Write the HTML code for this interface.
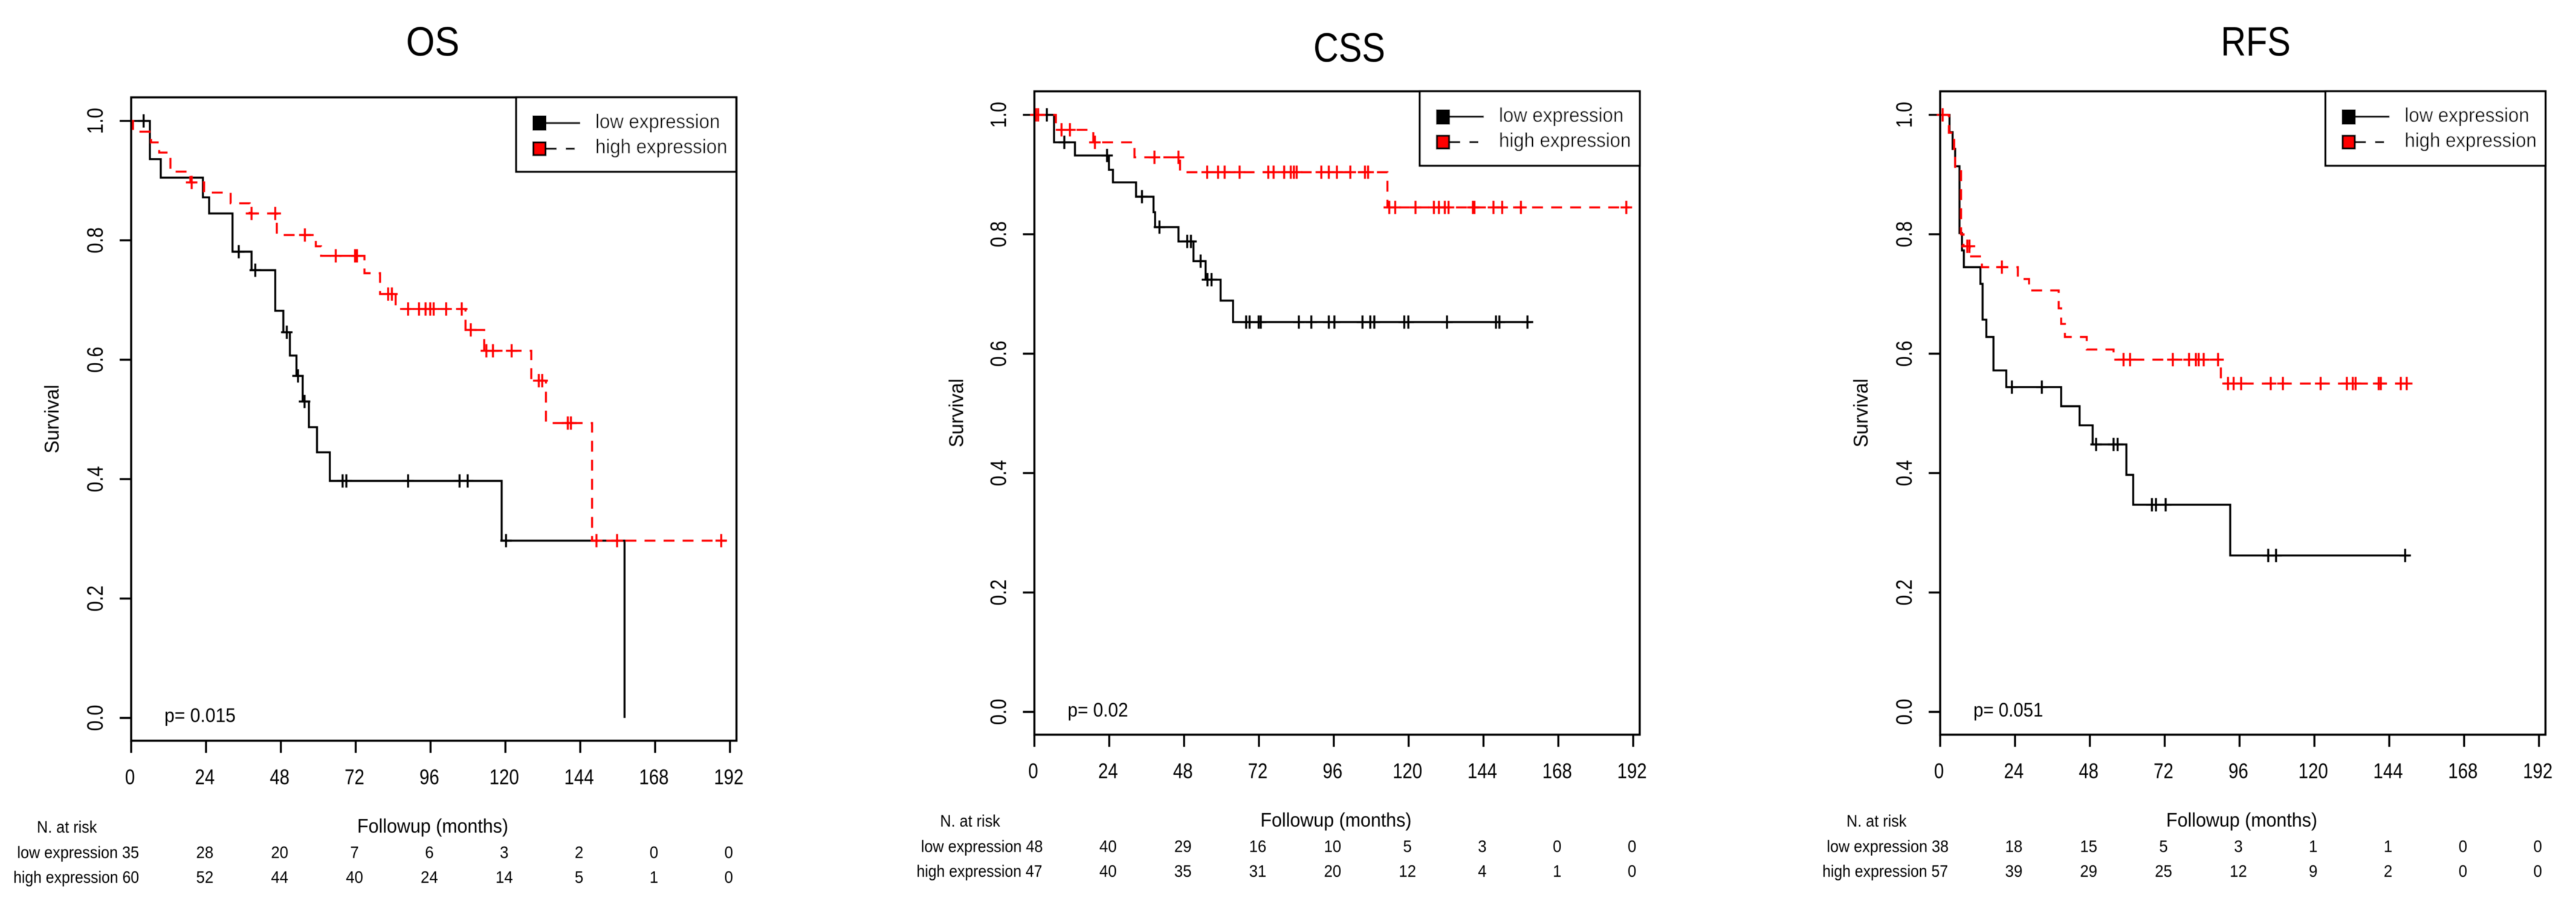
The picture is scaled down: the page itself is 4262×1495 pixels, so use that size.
<!DOCTYPE html>
<html lang="en">
<head>
<meta charset="utf-8">
<title>Survival curves: OS, CSS, RFS</title>
<style>
html,body{margin:0;padding:0;background:#fff;width:4262px;height:1495px;overflow:hidden}
svg{display:block;font-family:"Liberation Sans",sans-serif;fill:#000}
text{fill:#000}
</style>
</head>
<body>
<svg id="figure" xmlns="http://www.w3.org/2000/svg" width="4262" height="1495" viewBox="0 0 4262 1495">
<defs><filter id="soft" x="0" y="0" width="100%" height="100%"><feGaussianBlur stdDeviation="0.4"/></filter></defs>
<rect width="4262" height="1495" fill="#fff"/>
<g filter="url(#soft)">

<g id="panel-os" transform="translate(217,161)">
  <text transform="translate(499,-69) scale(.9,1)" font-size="68" text-anchor="middle">OS</text>
  <text transform="translate(-120,532) rotate(-90) scale(.97,1)" font-size="33" text-anchor="middle">Survival</text>
  <text transform="translate(499,1216) scale(.95,1)" font-size="32" text-anchor="middle">Followup (months)</text>
  <text transform="translate(55,1033) scale(.94,1)" font-size="32">p= 0.015</text>
  <text transform="translate(-156,1216) scale(.9,1)" font-size="28">N. at risk</text>
  <text transform="translate(13,1258) scale(.9,1)" font-size="28" text-anchor="end">low expression 35</text>
  <text transform="translate(13,1299) scale(.885,1)" font-size="28" text-anchor="end">high expression 60</text>
  <g class="legend" transform="translate(637,0)">
    <rect x="0" y="0" width="364" height="123" fill="#fff" stroke="#000" stroke-width="3.3"/>
    <rect x="27" y="30" width="23" height="25" fill="#000"/>
    <line x1="50" x2="106" y1="42.5" y2="42.5" stroke="#000" stroke-width="3.3"/>
    <text transform="translate(131,51) scale(.945,1)" font-size="33">low expression</text>
    <rect x="28.5" y="74.5" width="20" height="21" fill="#f00" stroke="#000" stroke-width="3.3"/>
    <path d="M50 85H67M82 85H97" stroke="#000" stroke-width="3.3" fill="none"/>
    <text transform="translate(131,92.5) scale(.945,1)" font-size="33">high expression</text>
  </g>
</g>

<g id="panel-css" transform="translate(1711.4,151)">
  <text transform="translate(521,-49) scale(.85,1)" font-size="68" text-anchor="middle">CSS</text>
  <text transform="translate(-118,532) rotate(-90) scale(.97,1)" font-size="33" text-anchor="middle">Survival</text>
  <text transform="translate(499,1216) scale(.95,1)" font-size="32" text-anchor="middle">Followup (months)</text>
  <text transform="translate(55,1034) scale(.93,1)" font-size="32">p= 0.02</text>
  <text transform="translate(-156,1216) scale(.9,1)" font-size="28">N. at risk</text>
  <text transform="translate(14,1258) scale(.9,1)" font-size="28" text-anchor="end">low expression 48</text>
  <text transform="translate(13,1299) scale(.885,1)" font-size="28" text-anchor="end">high expression 47</text>
  <g class="legend" transform="translate(637.6,0)">
    <rect x="0" y="0" width="364" height="123" fill="#fff" stroke="#000" stroke-width="3.3"/>
    <rect x="27" y="30" width="23" height="25" fill="#000"/>
    <line x1="50" x2="106" y1="42" y2="42" stroke="#000" stroke-width="3.3"/>
    <text transform="translate(131,50.5) scale(.945,1)" font-size="33">low expression</text>
    <rect x="28.5" y="73.5" width="20" height="21" fill="#f00" stroke="#000" stroke-width="3.3"/>
    <path d="M50 84H67M82 84H97" stroke="#000" stroke-width="3.3" fill="none"/>
    <text transform="translate(131,92) scale(.945,1)" font-size="33">high expression</text>
  </g>
</g>

<g id="panel-rfs" transform="translate(3210,151)">
  <text transform="translate(522,-59) scale(.85,1)" font-size="68" text-anchor="middle">RFS</text>
  <text transform="translate(-120,532) rotate(-90) scale(.97,1)" font-size="33" text-anchor="middle">Survival</text>
  <text transform="translate(499,1216) scale(.95,1)" font-size="32" text-anchor="middle">Followup (months)</text>
  <text transform="translate(55,1034) scale(.92,1)" font-size="32">p= 0.051</text>
  <text transform="translate(-155,1216) scale(.9,1)" font-size="28">N. at risk</text>
  <text transform="translate(14,1258) scale(.9,1)" font-size="28" text-anchor="end">low expression 38</text>
  <text transform="translate(13,1299) scale(.885,1)" font-size="28" text-anchor="end">high expression 57</text>
  <g class="legend" transform="translate(637.5,0)">
    <rect x="0" y="0" width="364" height="123" fill="#fff" stroke="#000" stroke-width="3.3"/>
    <rect x="27" y="30" width="23" height="25" fill="#000"/>
    <line x1="50" x2="106" y1="42" y2="42" stroke="#000" stroke-width="3.3"/>
    <text transform="translate(131,50.5) scale(.945,1)" font-size="33">low expression</text>
    <rect x="28.5" y="73.5" width="20" height="21" fill="#f00" stroke="#000" stroke-width="3.3"/>
    <path d="M50 84H67M82 84H97" stroke="#000" stroke-width="3.3" fill="none"/>
    <text transform="translate(131,92) scale(.945,1)" font-size="33">high expression</text>
  </g>
</g>

</g>
</svg>

<script>
// Axis tick labels
const xTicks = [0, 24, 48, 72, 96, 120, 144, 168, 192];
const yTicks = ["0.0", "0.2", "0.4", "0.6", "0.8", "1.0"];

// OS series
const osLowTime = [0, 6, 9.5, 23, 25, 32.5, 38.6, 46.2, 48.8, 50.9, 53, 55, 57, 59.6, 63.7, 118.8, 158.2];
const osLowSurv = [1, 0.936, 0.905, 0.872, 0.845, 0.781, 0.75, 0.682, 0.646, 0.607, 0.573, 0.53, 0.487, 0.445, 0.397, 0.297, 0];
const osLowCensor = [4, 34.5, 39.8, 49.9, 53.5, 55.6, 67.8, 69, 88.8, 105.3, 107.9, 120.2];
const osHighTime = [0, 0.6, 6.4, 9, 12.6, 19, 23.4, 31.9, 38, 46.7, 59.2, 60.9, 74.8, 79.8, 84.8, 107.2, 113.2, 128.3, 133, 147.8, 190.8];
const osHighSurv = [1, 0.982, 0.964, 0.947, 0.915, 0.897, 0.88, 0.862, 0.845, 0.809, 0.79, 0.774, 0.745, 0.71, 0.685, 0.65, 0.615, 0.565, 0.494, 0.297, 0.297];
const osHighCensor = [19.4, 38.6, 46.2, 55.7, 65.6, 71.8, 72.4, 82.4, 83.6, 88.8, 92.3, 94.4, 95.9, 97, 101, 106, 108.9, 113.9, 116, 122, 130.7, 131.8, 140, 141, 149.2, 155.8, 189.2];
const osRiskLow = [28, 20, 7, 6, 3, 2, 0, 0];
const osRiskHigh = [52, 44, 40, 24, 14, 5, 1, 0];

// CSS series
const cssLowTime = [0, 6.3, 13, 23.9, 25.2, 32.6, 38.2, 38.7, 46.2, 51, 54.9, 59.7, 63.7, 159.4];
const cssLowSurv = [1, 0.954, 0.932, 0.908, 0.887, 0.863, 0.837, 0.812, 0.788, 0.755, 0.724, 0.689, 0.653, 0.653];
const cssLowCensor = [4, 9.6, 23.3, 34.5, 40.1, 49, 50.2, 53.3, 55.5, 56.8, 67.9, 69, 71.9, 72.6, 84.8, 88.8, 94.4, 96.2, 105.2, 107.7, 109, 118.6, 119.9, 132.3, 148, 149.1, 158.1];
const cssHighTime = [0, 6.9, 18.9, 32.1, 46.7, 113.2, 190.7];
const cssHighSurv = [1, 0.975, 0.954, 0.929, 0.904, 0.845, 0.845];
const cssHighCensor = [0.5, 1.2, 8.7, 11.4, 19.4, 38.5, 46.2, 55.4, 58.9, 61, 65.8, 75, 76.7, 80.1, 82.2, 83.2, 84.1, 92, 94.4, 97, 101.3, 106, 107, 113.8, 115.7, 122.2, 128.1, 129.7, 131.6, 132.8, 140.6, 141.1, 147.2, 150, 156, 189.8];
const cssRiskLow = [40, 29, 16, 10, 5, 3, 0, 0];
const cssRiskHigh = [40, 35, 31, 20, 12, 4, 1, 0];

// RFS series
const rfsLowTime = [0, 3, 4, 4.8, 6.2, 7, 7.6, 12.9, 13.6, 14.8, 17.1, 21.2, 38.8, 44.7, 48.9, 59.7, 61.9, 93, 150.5];
const rfsLowSurv = [1, 0.971, 0.943, 0.914, 0.802, 0.773, 0.745, 0.717, 0.657, 0.628, 0.572, 0.544, 0.512, 0.48, 0.448, 0.397, 0.347, 0.262, 0.262];
const rfsLowCensor = [23, 32.6, 50, 55.6, 56.9, 67.9, 69.2, 72.3, 105.2, 107.7, 149.1];
const rfsHighTime = [0, 2.8, 4.5, 4.8, 6.7, 7.5, 9.5, 13.4, 24.9, 28.5, 38, 38.8, 40, 47, 55.6, 90, 150.5];
const rfsHighSurv = [1, 0.97, 0.943, 0.908, 0.8, 0.78, 0.763, 0.745, 0.725, 0.706, 0.676, 0.65, 0.628, 0.607, 0.59, 0.55, 0.55];
const rfsHighCensor = [0.8, 8.7, 9.4, 19.8, 58.8, 60.9, 74.6, 79.8, 82, 82.9, 84.5, 89.1, 92.3, 94.1, 96.5, 106, 109.9, 122, 130.4, 132.3, 133.2, 140.6, 141.3, 147.7, 149.6];
const rfsRiskLow = [18, 15, 5, 3, 1, 1, 0, 0];
const rfsRiskHigh = [39, 29, 25, 12, 9, 2, 0, 0];

const SVGNS = 'http://www.w3.org/2000/svg';
const BOX_W = 1001.5, BOX_H = 1064, Y_ONE = 39, Y_SPAN = 987.3, X_PER_MONTH = 5.16;

function xAxis(t) { return t * X_PER_MONTH; }
function yAxis(v) { return Y_ONE + (1 - v) * Y_SPAN; }

function shape(parent, tag, attrs) {
  const el = document.createElementNS(SVGNS, tag);
  for (const k in attrs) el.setAttribute(k, attrs[k]);
  parent.appendChild(el);
  return el;
}

function survivalAt(times, survs, t) {
  let s = survs[0];
  for (let i = 0; i < times.length; i++) if (times[i] <= t) s = survs[i];
  return s;
}

function stepPath(times, survs) {
  let d = 'M' + xAxis(times[0]) + ' ' + yAxis(survs[0]);
  for (let i = 1; i < times.length; i++) {
    d += 'H' + xAxis(times[i]).toFixed(1) + 'V' + yAxis(survs[i]).toFixed(1);
  }
  return d;
}

function drawSeries(g, prefix, times, survs, censor, color, dash) {
  const curve = shape(g, 'path', { d: stepPath(times, survs), fill: 'none', stroke: color, 'stroke-width': 3.3, 'stroke-dasharray': dash });
  
  
  censor.forEach(function (t) {
    const cx = xAxis(t), cy = yAxis(survivalAt(times, survs, t));
    const mark = shape(g, 'path', { d: 'M' + (cx - 9.5) + ' ' + cy + 'H' + (cx + 9.5) + 'M' + cx + ' ' + (cy - 11) + 'V' + (cy + 11), fill: 'none', stroke: color, 'stroke-width': 3.3 });
    
    
  });
}

function drawPanel(id, prefix, low, high, riskLow, riskHigh) {
  const g = document.getElementById(id);
  const legend = g.querySelector('.legend');
  const plot = document.createElementNS(SVGNS, 'g');
  
  
  g.insertBefore(plot, legend);

  xTicks.forEach(function (t) {
    const tick = shape(plot, 'line', { x1: xAxis(t), x2: xAxis(t), y1: BOX_H, y2: BOX_H + 20, stroke: '#000', 'stroke-width': 3.3 });
    
    
    const label = shape(plot, 'text', { transform: 'translate(' + (xAxis(t) - 2) + ',' + (BOX_H + 72) + ') scale(.84,1)', 'font-size': 35, 'text-anchor': 'middle' });
    label.textContent = String(t);
    
    
  });

  yTicks.forEach(function (v) {
    const y = yAxis(parseFloat(v));
    const tick = shape(plot, 'line', { x1: -19, x2: 0, y1: y, y2: y, stroke: '#000', 'stroke-width': 3.3 });
    
    
    const label = shape(plot, 'text', { transform: 'translate(-47,' + y + ') rotate(-90) scale(.84,1)', 'font-size': 37, 'text-anchor': 'middle' });
    label.textContent = v;
    
    
  });

  riskLow.forEach(function (n, i) {
    const label = shape(plot, 'text', { transform: 'translate(' + (xAxis(xTicks[i + 1]) - 2) + ',1258) scale(.92,1)', 'font-size': 28, 'text-anchor': 'middle' });
    label.textContent = String(n);
    
    
  });
  riskHigh.forEach(function (n, i) {
    const label = shape(plot, 'text', { transform: 'translate(' + (xAxis(xTicks[i + 1]) - 2) + ',1299) scale(.92,1)', 'font-size': 28, 'text-anchor': 'middle' });
    label.textContent = String(n);
    
    
  });

  drawSeries(plot, prefix + '-low', low[0], low[1], low[2], '#000', 'none');
  drawSeries(plot, prefix + '-high', high[0], high[1], high[2], '#f00', '18 13.5');

  const frame = shape(plot, 'rect', { x: 0, y: 0, width: BOX_W, height: BOX_H, fill: 'none', stroke: '#000', 'stroke-width': 3.4 });
  
  
}

drawPanel('panel-os', 'os', [osLowTime, osLowSurv, osLowCensor], [osHighTime, osHighSurv, osHighCensor], osRiskLow, osRiskHigh);
drawPanel('panel-css', 'css', [cssLowTime, cssLowSurv, cssLowCensor], [cssHighTime, cssHighSurv, cssHighCensor], cssRiskLow, cssRiskHigh);
drawPanel('panel-rfs', 'rfs', [rfsLowTime, rfsLowSurv, rfsLowCensor], [rfsHighTime, rfsHighSurv, rfsHighCensor], rfsRiskLow, rfsRiskHigh);
</script>
</body>
</html>
